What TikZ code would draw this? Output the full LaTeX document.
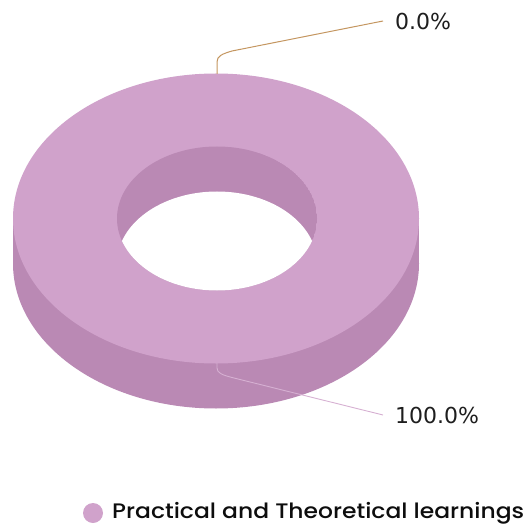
\documentclass[tikz,border=0pt]{standalone}
\usepackage{fontspec}
\usepackage{graphicx}
\newfontfamily\dvfont{DejaVu Sans}
\newfontfamily\popfont[UprightFont={* Medium}]{Poppins}
\definecolor{topc}{RGB}{208,162,203}
\definecolor{sidec}{RGB}{186,137,180}
\definecolor{leadA}{RGB}{196,150,96}
\definecolor{leadB}{RGB}{214,176,210}
\definecolor{txt}{RGB}{30,30,30}
\tikzset{
  pct/.style={anchor=west,inner sep=0pt,text=txt,font=\dvfont\fontsize{22}{26}\selectfont},
  leg/.style={anchor=west,inner sep=0pt,text=black!95,font=\popfont\fontsize{21}{25}\selectfont},
}
\begin{document}
\begin{tikzpicture}[x=1pt,y=-1pt]
\useasboundingbox (0,0) rectangle (526,529);
% side of the ring
\fill[sidec] (216,263.5) ellipse[x radius=203,y radius=145];
\fill[sidec] (13,218.5) rectangle (419,263.5);
% top face
\fill[topc] (216,218.5) ellipse[x radius=203,y radius=145];
% hole
\begin{scope}
  \clip (217,218.5) ellipse[x radius=100,y radius=72];
  \fill[sidec] (217,218.5) ellipse[x radius=100,y radius=72];
  \fill[white] (217,263.5) ellipse[x radius=100,y radius=72];
\end{scope}
% labels
\coordinate (a0) at (217,74);
\coordinate (b0) at (217,363);
\node[pct] (l0) at (395,21) {0.0\%};
\node[pct] (l1) at (395,415) {100.0\%};
\draw[leadA,line width=1pt] (a0) -- (217,62) .. controls (217,56) and (222,54) .. (232,51) -- ([xshift=-12pt]l0.west);
\draw[leadB,line width=0.9pt] (b0) -- (217,368) .. controls (217,373) and (222,375) .. (234,378) -- ([xshift=-12pt]l1.west);
% legend
\node[circle,fill=topc,minimum size=20pt,inner sep=0pt] (dot) at (93,513) {};
\node[leg] (lt) at (112,513) {\resizebox{412pt}{\height}{Practical and Theoretical learnings}};
\end{tikzpicture}
\end{document}
